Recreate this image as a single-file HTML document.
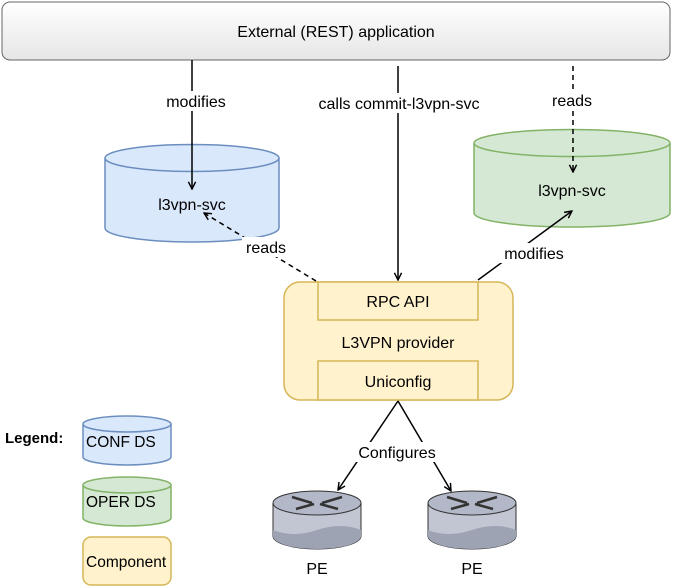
<html><body style="margin:0;background:#fff">
<svg width="682" height="587" viewBox="0 0 682 587" xmlns="http://www.w3.org/2000/svg" font-family="Liberation Sans, sans-serif" font-size="16">
<defs>
<linearGradient id="g" x1="0" y1="0" x2="0" y2="1"><stop offset="0" stop-color="#fff"/><stop offset="1" stop-color="#e6e6e6"/></linearGradient>
<marker id="a" viewBox="0 0 10 10" refX="9" refY="5" markerWidth="9" markerHeight="9" orient="auto" markerUnits="userSpaceOnUse"><path d="M1,1 L9,5 L1,9" fill="none" stroke="#000" stroke-width="1.6"/></marker>
</defs>
<rect x="2" y="2" width="668" height="58" rx="8" fill="url(#g)" stroke="#666"/>
<text x="336" y="37" text-anchor="middle">External (REST) application</text>
<path d="M105,158 v70 a87,14 0 0 0 174,0 v-70" fill="#dae8fc" stroke="#6c8ebf" stroke-width="1.5"/>
<ellipse cx="192" cy="158" rx="87" ry="13.5" fill="#dae8fc" stroke="#6c8ebf" stroke-width="1.5"/>
<text x="192" y="210" text-anchor="middle">l3vpn-svc</text>
<path d="M474,143 v70 a98,14 0 0 0 196,0 v-70" fill="#d5e8d4" stroke="#82b366" stroke-width="1.5"/>
<ellipse cx="572" cy="143" rx="98" ry="13.5" fill="#d5e8d4" stroke="#82b366" stroke-width="1.5"/>
<text x="572" y="196" text-anchor="middle">l3vpn-svc</text>
<rect x="284" y="282" width="229" height="118" rx="16" fill="#fff2cc" stroke="#d6b656" stroke-width="1.5"/>
<rect x="318" y="282" width="160" height="38" fill="#fff2cc" stroke="#d6b656" stroke-width="1.5"/>
<text x="398" y="307" text-anchor="middle">RPC API</text>
<text x="398" y="348" text-anchor="middle">L3VPN provider</text>
<rect x="318" y="361" width="160" height="39" fill="#fff2cc" stroke="#d6b656" stroke-width="1.5"/>
<text x="398" y="387" text-anchor="middle">Uniconfig</text>
<line x1="192" y1="60" x2="192" y2="189" stroke="#000" stroke-width="1.5" marker-end="url(#a)"/>
<rect x="160" y="91" width="68" height="20" fill="#fff"/><text x="196" y="107" text-anchor="middle">modifies</text>
<line x1="398" y1="66" x2="398" y2="280" stroke="#000" stroke-width="1.5" marker-end="url(#a)"/>
<rect x="314" y="93" width="170" height="20" fill="#fff"/><text x="399" y="109" text-anchor="middle">calls commit-l3vpn-svc</text>
<line x1="573" y1="66" x2="573" y2="172" stroke="#000" stroke-width="1.5" stroke-dasharray="5,4" marker-end="url(#a)"/>
<rect x="548" y="90" width="50" height="20" fill="#fff"/><text x="572" y="106" text-anchor="middle">reads</text>
<line x1="316" y1="281" x2="204" y2="213" stroke="#000" stroke-width="1.5" stroke-dasharray="5,4" marker-end="url(#a)"/>
<rect x="242" y="237" width="48" height="20" fill="#fff"/><text x="266" y="253" text-anchor="middle">reads</text>
<line x1="478" y1="280" x2="572" y2="211" stroke="#000" stroke-width="1.5" marker-end="url(#a)"/>
<rect x="500" y="243" width="68" height="20" fill="#fff"/><text x="534" y="259" text-anchor="middle">modifies</text>
<line x1="398" y1="401" x2="338" y2="490" stroke="#000" stroke-width="1.5" marker-end="url(#a)"/>
<line x1="398" y1="401" x2="451" y2="491" stroke="#000" stroke-width="1.5" marker-end="url(#a)"/>
<rect x="354" y="442" width="86" height="20" fill="#fff"/><text x="397" y="458" text-anchor="middle">Configures</text>
<g id="r">
<path d="M273,503 v33 a44,13 0 0 0 88,0 v-33" fill="#c2c6d2" stroke="#333" stroke-width="1"/>
<path d="M273,536 a44,13 0 0 0 88,0 v-6 q-20,-8 -44,0 q-24,8 -44,0z" fill="#9da3b3"/>
<ellipse cx="317" cy="503" rx="44" ry="12" fill="#b3b8c8" stroke="#333" stroke-width="1"/>
<path d="M292,497 l20,6 M296,509 l18,-5 M342,497 l-20,6 M338,509 l-18,-5" stroke="#333" stroke-width="2.5"/>
</g>
<use href="#r" x="155"/>
<text x="317" y="574" text-anchor="middle">PE</text>
<text x="472" y="574" text-anchor="middle">PE</text>
<text x="5" y="443" font-weight="bold" font-size="15">Legend:</text>
<path d="M83,424 v33 a44,8 0 0 0 88,0 v-33" fill="#dae8fc" stroke="#6c8ebf" stroke-width="1.5"/>
<ellipse cx="127" cy="424" rx="44" ry="8" fill="#dae8fc" stroke="#6c8ebf" stroke-width="1.5"/>
<text x="86" y="447" font-size="15.5">CONF DS</text>
<path d="M83,485 v33 a44,8 0 0 0 88,0 v-33" fill="#d5e8d4" stroke="#82b366" stroke-width="1.5"/>
<ellipse cx="127" cy="485" rx="44" ry="8" fill="#d5e8d4" stroke="#82b366" stroke-width="1.5"/>
<text x="86" y="507" font-size="15.5">OPER DS</text>
<rect x="83" y="537" width="88" height="48" rx="8" fill="#fff2cc" stroke="#d6b656" stroke-width="1.5"/>
<text x="86" y="567" font-size="15.5">Component</text>
</svg>
</body></html>
